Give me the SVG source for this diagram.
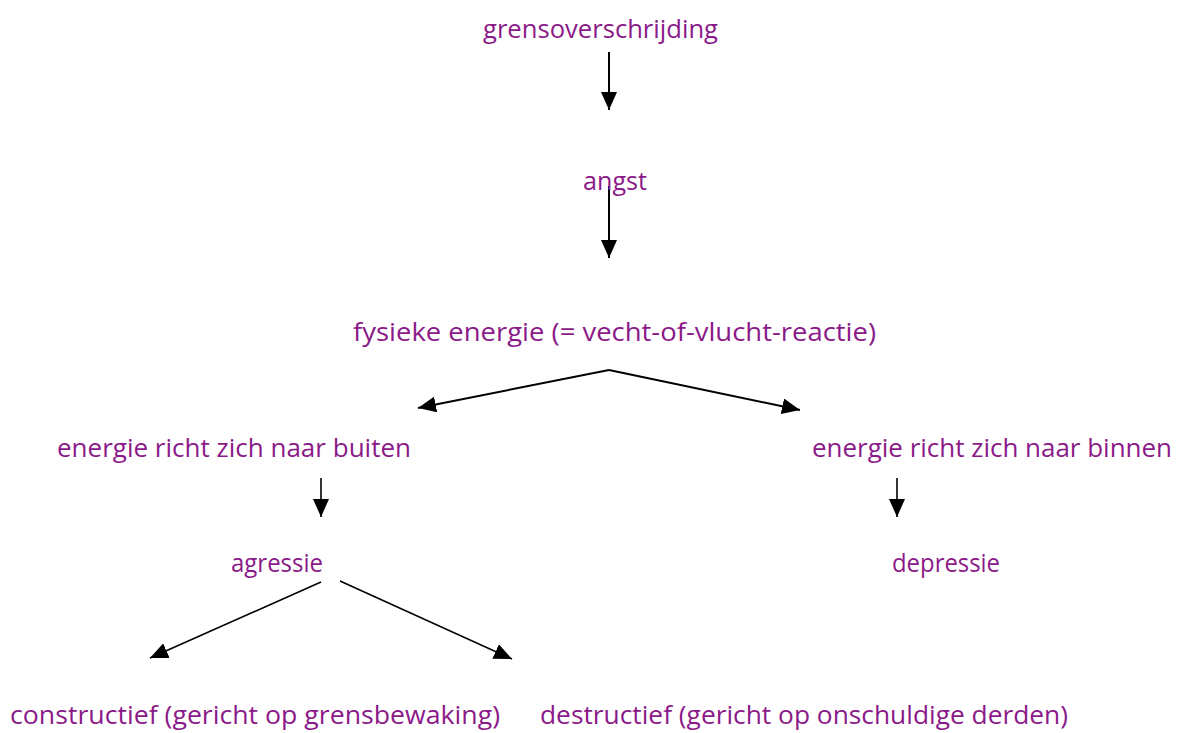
<svg xmlns="http://www.w3.org/2000/svg" width="1177" height="733" viewBox="0 0 1177 733">
<style>
text{font-family:"Open Sans","Noto Sans",sans-serif;font-size:26px;fill:#8B1A89}
.c{stroke:#000;fill:none;stroke-width:2}
.t{stroke-width:1.6}
</style>
<defs>
<marker id="ah" viewBox="0 0 10 10" refX="10" refY="5" markerWidth="8" markerHeight="8" markerUnits="userSpaceOnUse" orient="auto">
<path d="M0,0 L10,5 L0,10 Z" fill="#000"/>
</marker>
<marker id="ah2" viewBox="0 0 10 10" refX="10" refY="5" markerWidth="18" markerHeight="16" markerUnits="userSpaceOnUse" orient="auto" preserveAspectRatio="none">
<path d="M0,0 L10,5 L0,10 Z" fill="#000"/>
</marker>
</defs>
<rect width="1177" height="733" fill="#fff"/>
<g id="connectors">
<line class="c" x1="609" y1="52" x2="609" y2="110" marker-end="url(#ah2)"/>
<line class="c" x1="609" y1="186" x2="609" y2="258" marker-end="url(#ah2)"/>
<line class="c" x1="609" y1="370" x2="418" y2="408" marker-end="url(#ah2)"/>
<line class="c" x1="609" y1="370" x2="800" y2="410" marker-end="url(#ah2)"/>
<line class="c t" x1="321" y1="478" x2="321" y2="517" marker-end="url(#ah2)"/>
<line class="c t" x1="897" y1="478" x2="897" y2="517" marker-end="url(#ah2)"/>
<line class="c t" x1="321" y1="582" x2="150" y2="658" marker-end="url(#ah2)"/>
<line class="c t" x1="340" y1="581" x2="512" y2="659" marker-end="url(#ah2)"/>
</g>
<g id="n1"><text x="483" y="38" textLength="235" lengthAdjust="spacingAndGlyphs">grensoverschrijding</text></g>
<g id="n2"><text x="583" y="190" textLength="64" lengthAdjust="spacingAndGlyphs">angst</text></g>
<g id="n3"><text x="353" y="341" textLength="523" lengthAdjust="spacingAndGlyphs">fysieke energie (= vecht-of-vlucht-reactie)</text></g>
<g id="n4"><text x="57" y="457" textLength="354" lengthAdjust="spacingAndGlyphs">energie richt zich naar buiten</text></g>
<g id="n5"><text x="812" y="457" textLength="360" lengthAdjust="spacingAndGlyphs">energie richt zich naar binnen</text></g>
<g id="n6"><text x="231" y="572" textLength="92" lengthAdjust="spacingAndGlyphs">agressie</text></g>
<g id="n7"><text x="892" y="572" textLength="108" lengthAdjust="spacingAndGlyphs">depressie</text></g>
<g id="n8"><text x="10" y="724" textLength="490" lengthAdjust="spacingAndGlyphs">constructief (gericht op grensbewaking)</text></g>
<g id="n9"><text x="540" y="724" textLength="528" lengthAdjust="spacingAndGlyphs">destructief (gericht op onschuldige derden)</text></g>
</svg>
